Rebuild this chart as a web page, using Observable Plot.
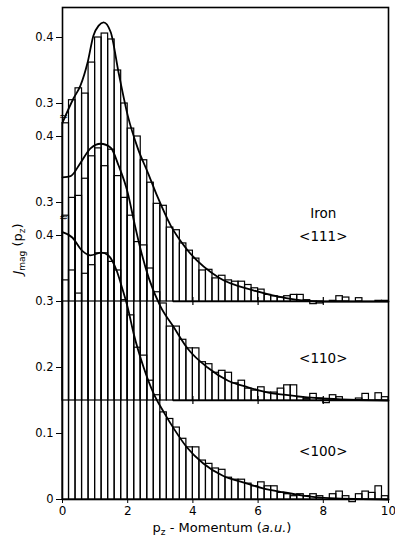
<!DOCTYPE html>
<html><head><meta charset="utf-8">
<script src="https://cdn.jsdelivr.net/npm/d3@7"></script>
<script src="https://cdn.jsdelivr.net/npm/@observablehq/plot@0.6"></script>
<style>
body{margin:0;background:#fff}
svg{font-family:"DejaVu Sans",sans-serif}
</style>
</head><body><div id="chart"></div>
<script>
// bin left edges (a.u.), bin width 0.2
const binStart = [0,0.2,0.4,0.6,0.8,1.0,1.2,1.4,1.6,1.8,2.0,2.2,2.4,2.6,2.8,3.0,3.2,3.4,3.6,3.8,
  4.0,4.2,4.4,4.6,4.8,5.0,5.2,5.4,5.6,5.8,6.0,6.2,6.4,6.6,6.8,7.0,7.2,7.4,7.6,7.8,
  8.0,8.2,8.4,8.6,8.8,9.0,9.2,9.4,9.6,9.8];
const binWidth = 0.2;

// panel offsets on the shared vertical scale
const offset111 = 0.30, offset110 = 0.15, offset100 = 0;

// histogram values J_mag(pz)
const hist111 = [0.27,0.305,0.323,0.315,0.362,0.40,0.406,0.397,0.35,0.30,0.262,0.25,0.214,0.18,0.148,0.145,0.112,0.108,0.088,0.077,
  0.065,0.047,0.048,0.035,0.039,0.032,0.03,0.03,0.025,0.02,0.018,0.01,0.008,0.006,0.008,0.01,0.01,0.002,-0.004,-0.003,
  0,0.001,0.008,0.006,0,0.005,0,0,0.001,0.001];
const hist110 = [0.28,0.307,0.31,0.336,0.37,0.382,0.355,0.38,0.34,0.307,0.28,0.24,0.235,0.2,0.164,0.147,0.112,0.112,0.092,0.079,
  0.079,0.058,0.055,0.042,0.045,0.042,0.026,0.03,0.018,0.015,0.02,0.012,0.012,0.018,0.023,0.023,0.005,0.002,0.01,0.003,
  -0.004,0.008,0.005,0,0,0.003,0.01,0,0.011,0.005];
const hist100 = [0.332,0.347,0.312,0.342,0.355,0.373,0.373,0.36,0.347,0.302,0.279,0.23,0.218,0.18,0.158,0.132,0.122,0.109,0.092,0.079,
  0.079,0.059,0.054,0.047,0.045,0.033,0.03,0.03,0.024,0.02,0.026,0.02,0.02,0.01,0.008,0.005,0.008,0.005,0.008,0.005,
  0,0.008,0.012,0.005,-0.004,0.008,0.012,0.01,0.02,0.005];

// theory curves (pz, J)
const curve111P = [0,0.34,0.55,0.77,0.95,1.11,1.26,1.48,1.72,2.0,2.31,2.62,2.92,3.32,3.8,4.8,5.85,6.86,7.9,10];
const curve111V = [0.271,0.308,0.327,0.362,0.403,0.418,0.423,0.408,0.347,0.282,0.232,0.195,0.158,0.115,0.08,0.036,0.017,0.005,0,0];
const curve110P = [0,0.25,0.55,0.86,1.17,1.48,1.72,2.0,2.2,2.4,2.65,3.0,3.4,3.85,4.45,5.08,5.69,6.31,6.92,7.94,10];
const curve110V = [0.338,0.34,0.36,0.382,0.389,0.383,0.356,0.315,0.27,0.228,0.185,0.143,0.112,0.078,0.05,0.03,0.02,0.012,0.008,0.003,0];
const curve100P = [0,0.3,0.6,0.85,1.2,1.4,1.66,1.85,2.0,2.18,2.49,2.8,3.11,3.42,3.8,4.31,4.92,5.54,6.15,6.77,7.38,8.2,10];
const curve100V = [0.405,0.397,0.377,0.37,0.374,0.37,0.347,0.317,0.291,0.252,0.2,0.16,0.132,0.107,0.08,0.055,0.036,0.026,0.017,0.011,0.006,0.002,0];

// axis ticks
const xTicks = [0,2,4,6,8,10];
const yTickValues = [0,0.1,0.2,0.3,0.4,0.45,0.55,0.6,0.7];
const yTickLabels = ["0","0.1","0.2","0.3","0.4","0.3","0.4","0.3","0.4"];
const panelTicks = [4,6,8];
const breakMarks = [0.58,0.428];

// annotations
const labelText = ["Iron","<111>","<110>","<100>"];
const labelP = [8.0,8.0,8.0,8.0];
const labelY = [0.433,0.398,0.214,0.073];

const panels = [
  {offset: offset111, hist: hist111, cp: curve111P, cv: curve111V},
  {offset: offset110, hist: hist110, cp: curve110P, cv: curve110V},
  {offset: offset100, hist: hist100, cp: curve100P, cv: curve100V}
];
const bars = [], curves = [], baselines = [], pticks = [];
panels.forEach((pn, k) => {
  pn.hist.forEach((v, i) => bars.push({x1: binStart[i], x2: binStart[i] + binWidth, y1: pn.offset, y2: pn.offset + v}));
  pn.cp.forEach((p, i) => curves.push({panel: k, p, y: pn.offset + pn.cv[i]}));
  if (pn.offset > 0) {
    baselines.push({y: pn.offset});
    panelTicks.forEach(t => pticks.push({x: t, y1: pn.offset - 0.006, y2: pn.offset + 0.006}));
  }
});
const labelMap = new Map(yTickValues.map((v, i) => [v, yTickLabels[i]]));
const labels = labelText.map((t, i) => ({t, p: labelP[i], y: labelY[i]}));

const W = 395, H = 544, mL = 62, mR = 7, mT = 7, mB = 45;
const chart = Plot.plot({
  width: W, height: H,
  marginLeft: mL, marginRight: mR, marginTop: mT, marginBottom: mB,
  style: {fontFamily: "DejaVu Sans, sans-serif", background: "white", color: "black"},
  x: {domain: [0, 10]},
  y: {domain: [0, (H - mT - mB) / 660]},
  marks: [
    Plot.rect(bars, {x1: "x1", x2: "x2", y1: "y1", y2: "y2", fill: "none", stroke: "black", strokeWidth: 1.2}),
    Plot.ruleY(baselines, {y: "y", x1: 3.4, x2: 10, stroke: "black", strokeWidth: 1.6}),
    Plot.ruleX(pticks, {x: "x", y1: "y1", y2: "y2", stroke: "black", strokeWidth: 1.2}),
    Plot.line(curves, {x: "p", y: "y", z: "panel", curve: "monotone-x", stroke: "black", strokeWidth: 1.8}),
    Plot.frame({stroke: "black", strokeWidth: 1.6}),
    Plot.axisX(xTicks, {tickSize: 4, tickPadding: 3, fontSize: 12, label: null}),
    Plot.axisY(yTickValues, {tickSize: 6, tickPadding: 3, fontSize: 11.5, label: null, tickFormat: d => labelMap.get(d)}),
    Plot.text(breakMarks, {x: 0, y: d => d, text: () => "≈", fontSize: 11, fill: "black", dx: 1}),
    Plot.text(labels, {x: "p", y: "y", text: "t", fontSize: 13.5, fill: "black"})
  ]
});
document.getElementById("chart").appendChild(chart);

// axis titles with subscripts
const svg = d3.select(chart);
const xt = svg.append("text").attr("x", 222).attr("y", 532).attr("text-anchor", "middle")
  .attr("font-size", 13).attr("fill", "black").style("fill", "black");
xt.append("tspan").text("p");
xt.append("tspan").attr("font-size", 9).attr("dy", 3).text("z");
xt.append("tspan").attr("dy", -3).text(" - Momentum (");
xt.append("tspan").attr("font-style", "italic").text("a.u.");
xt.append("tspan").text(")");

const yt = svg.append("text").attr("transform", "translate(22,249) rotate(-90)").attr("text-anchor", "middle")
  .attr("font-size", 13).attr("fill", "black").style("fill", "black");
yt.append("tspan").attr("font-style", "italic").text("J");
yt.append("tspan").attr("font-size", 9).attr("dy", 3).text("mag");
yt.append("tspan").attr("dy", -3).text(" (p");
yt.append("tspan").attr("font-size", 9).attr("dy", 3).text("z");
yt.append("tspan").attr("dy", -3).text(")");
</script>
</body></html>
